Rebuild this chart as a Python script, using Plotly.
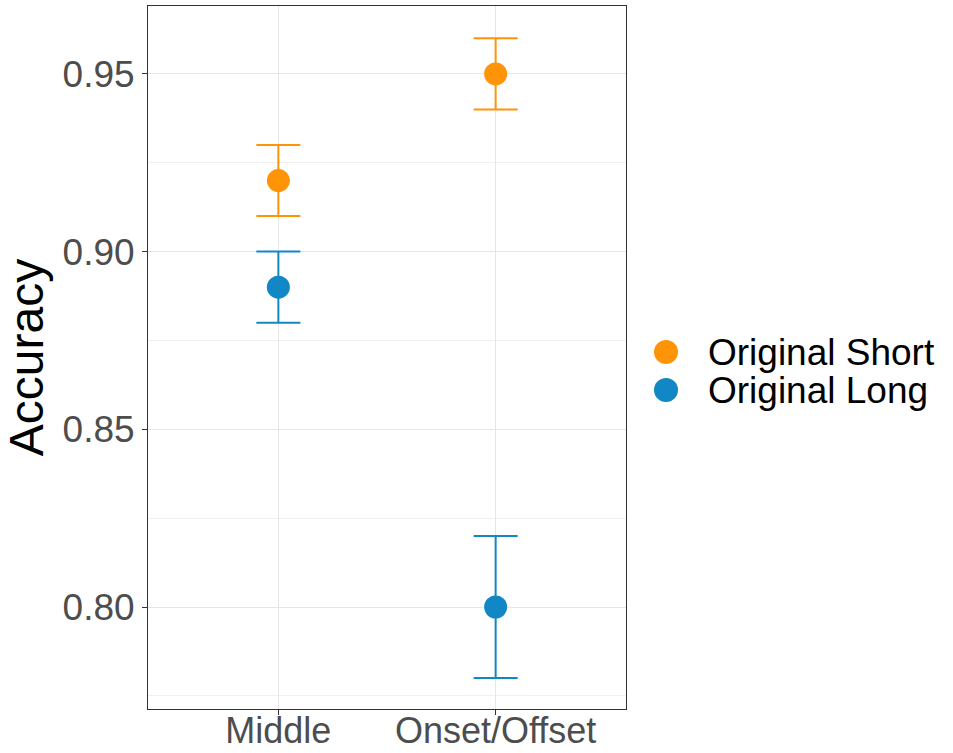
import plotly.graph_objects as go

# Accuracy by trial position for the two original conditions
positions = ["Middle", "Onset/Offset"]
series_names = ["Original Short", "Original Long"]
short_acc = [0.92, 0.95]
short_err = [0.01, 0.01]
long_acc = [0.89, 0.80]
long_err = [0.01, 0.02]

colors = {"Original Short": "#FF9408", "Original Long": "#1187C5"}
FONT = "Liberation Sans, Arial, sans-serif"

fig = go.Figure()
for name, acc, err in [("Original Short", short_acc, short_err),
                       ("Original Long", long_acc, long_err)]:
    fig.add_trace(go.Scatter(
        x=positions, y=acc, mode="markers", name=name,
        marker=dict(size=23, color=colors[name]),
        error_y=dict(type="data", array=err, visible=True,
                     color=colors[name], thickness=2, width=22),
        showlegend=False,
    ))

# Legend drawn as circle keys plus text labels to the right of the panel
W, L, R = 953, 148, 327
H, T, B = 753, 6, 44
pw, ph = W - L - R, H - T - B
shapes, annotations = [], []
for i, name in enumerate(series_names):
    ypix = 352 + 38 * i
    ypaper = (H - B - ypix) / ph
    shapes.append(dict(
        type="circle", xref="paper", yref="paper",
        xsizemode="pixel", ysizemode="pixel",
        xanchor=(666 - L) / pw, yanchor=ypaper,
        x0=-12, x1=12, y0=-12, y1=12,
        fillcolor=colors[name], line=dict(width=0),
    ))
    annotations.append(dict(
        text=name, xref="paper", yref="paper",
        x=(706 - L) / pw, y=ypaper, xanchor="left", yanchor="middle",
        showarrow=False, font=dict(size=37, color="#000000", family=FONT),
    ))

fig.update_layout(
    width=W, height=H,
    margin=dict(l=L, r=R, t=T, b=B, autoexpand=False),
    paper_bgcolor="white", plot_bgcolor="white",
    font=dict(family=FONT),
    shapes=shapes, annotations=annotations,
    showlegend=False,
)
fig.update_xaxes(
    type="category", range=[-0.6, 1.6],
    showgrid=True, gridcolor="#E6E6E6", gridwidth=1.1,
    showline=True, linecolor="#333333", linewidth=1, mirror=True,
    ticks="outside", ticklen=5, tickcolor="#333333", tickwidth=1,
    ticklabelstandoff=-15,
    tickfont=dict(size=36, color="#4D4D4D", family=FONT),
    zeroline=False,
)
fig.update_yaxes(
    range=[0.7713, 0.9691], tickvals=[0.80, 0.85, 0.90, 0.95],
    tickformat=".2f",
    showgrid=True, gridcolor="#E6E6E6", gridwidth=1.1,
    minor=dict(tickvals=[0.775, 0.825, 0.875, 0.925], showgrid=True,
               gridcolor="#F0F0F0", gridwidth=0.6, ticks=""),
    showline=True, linecolor="#333333", linewidth=1, mirror=True,
    ticks="outside", ticklen=5, tickcolor="#333333", tickwidth=1,
    tickfont=dict(size=37, color="#4D4D4D", family=FONT),
    title=dict(text="Accuracy", font=dict(size=48, color="#000000", family=FONT),
               standoff=8),
    zeroline=False,
)

fig.write_html("out.html")
